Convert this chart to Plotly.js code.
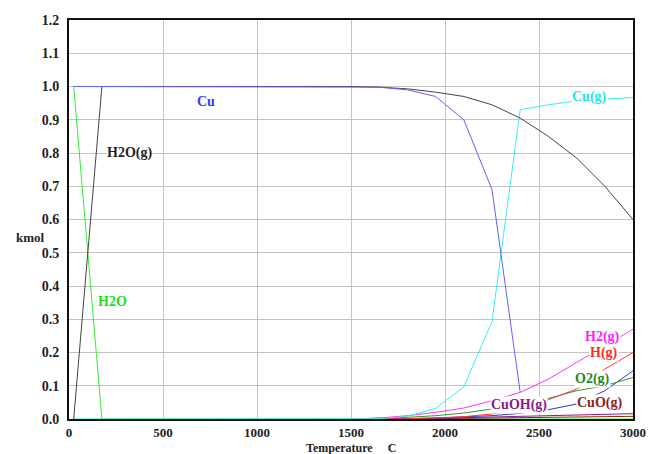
<!DOCTYPE html>
<html>
<head>
<meta charset="utf-8">
<script src="https://cdn.plot.ly/plotly-3.0.1.min.js"></script>
<style>html,body{margin:0;padding:0;background:#fff;}#chart{width:651px;height:454px;}</style>
</head>
<body>
<div id="chart"></div>
<script>
// Temperatures (C)
const T_full = [25, 175, 1500, 1650, 1800, 1950, 2100, 2250, 2400, 2550, 2700, 2850, 3000];
const T_cu = [25, 175, 1500, 1650, 1800, 1950, 2100, 2250, 2400];
const T_h2o = [25, 175, 3000];
const T_hi = [1500, 1650, 1800, 1950, 2100, 2250, 2400, 2550, 2700, 2850, 3000];

// Amounts (kmol)
const cu = [1, 1, 1, 0.998, 0.99, 0.97, 0.9, 0.69, 0.08];
const h2oGas = [0, 1, 1, 0.998, 0.993, 0.983, 0.97, 0.945, 0.905, 0.85, 0.785, 0.7, 0.6];
const h2oLiq = [1, 0, 0];
const cuGas = [0, 0, 0, 0.001, 0.008, 0.032, 0.097, 0.293, 0.93, 0.945, 0.957, 0.962, 0.967];
const h2Gas = [0, 0.003, 0.01, 0.02, 0.033, 0.055, 0.08, 0.12, 0.17, 0.22, 0.27];
const hGas = [0, 0, 0.001, 0.003, 0.007, 0.015, 0.03, 0.058, 0.09, 0.15, 0.2];
const o2Gas = [0, 0.002, 0.005, 0.01, 0.018, 0.03, 0.045, 0.062, 0.085, 0.1, 0.125];
const ohGas = [0, 0, 0.001, 0.003, 0.006, 0.01, 0.017, 0.028, 0.045, 0.085, 0.145];
const cuohGas = [0, 0, 0.001, 0.002, 0.004, 0.006, 0.008, 0.01, 0.012, 0.014, 0.016];
const cuoGas = [0, 0, 0, 0.001, 0.002, 0.003, 0.004, 0.005, 0.006, 0.007, 0.008];

// Labels
const labelText = ["Cu", "H2O(g)", "H2O", "Cu(g)", "H2(g)", "H(g)", "O2(g)", "CuOH(g)", "CuO(g)"];
const labelX = [729, 324, 234, 2771, 2840, 2846, 2782, 2394, 2824];
const labelY = [0.956, 0.8, 0.352, 0.968, 0.247, 0.198, 0.12, 0.042, 0.048];
const labelColor = ["#3a3aff", "#222222", "#22dd22", "#22e6e6", "#ff22ff", "#ff2a2a", "#1f8a1f", "#8a1a8a", "#8b2323"];

const ln = (x, y, c) => ({x: x, y: y, type: 'scatter', mode: 'lines', line: {color: c, width: 1}, hoverinfo: 'skip'});

const data = [
  ln(T_h2o, h2oLiq, '#33ee33'),
  ln(T_hi, cuoGas, '#8b2323'),
  ln(T_hi, cuohGas, '#8a1a8a'),
  ln(T_hi, ohGas, '#3333cc'),
  ln(T_hi, o2Gas, '#2e9a2e'),
  ln(T_hi, hGas, '#ff3333'),
  ln(T_hi, h2Gas, '#ff33ff'),
  ln(T_full, cuGas, '#33f0f0'),
  ln(T_full, h2oGas, '#444444'),
  ln(T_cu, cu, '#6060ff')
];

const serif = 'Liberation Serif, Times New Roman, serif';
const lblFont = {family: serif, size: 14, weight: 'bold'};
const annotations = labelText.map((t, i) => ({
  x: labelX[i], y: labelY[i], xref: 'x', yref: 'y', text: t, showarrow: false,
  xanchor: 'center', yanchor: 'middle',
  font: Object.assign({}, lblFont, {color: labelColor[i]}), bgcolor: '#ffffff', borderpad: 0
}));
annotations.push({x: -0.068, y: 0.546, xref: 'paper', yref: 'y', xanchor: 'center', yanchor: 'middle',
  text: 'kmol', showarrow: false, font: {family: serif, size: 13, weight: 'bold', color: '#222'}});
annotations.push({x: 0.5, y: -0.073, xref: 'paper', yref: 'paper', xanchor: 'center', yanchor: 'middle',
  text: 'Temperature &nbsp;&nbsp;&nbsp; C', showarrow: false, font: {family: serif, size: 12, weight: 'bold', color: '#222'}});

const layout = {
  width: 651, height: 454,
  margin: {l: 69, r: 18, t: 20, b: 35},
  paper_bgcolor: '#ffffff', plot_bgcolor: '#ffffff',
  showlegend: false,
  xaxis: {range: [0, 3000], tickvals: [0, 500, 1000, 1500, 2000, 2500, 3000], showgrid: true, gridcolor: '#c4c4c4', gridwidth: 1,
    zeroline: false, showline: true, mirror: true, linecolor: '#111', linewidth: 2, ticks: '', ticklabelstandoff: 0,
    tickfont: {family: serif, size: 13, weight: 'bold', color: '#222'}},
  yaxis: {range: [0, 1.2], dtick: 0.1, tickformat: '.1f', showgrid: true, gridcolor: '#c4c4c4', gridwidth: 1,
    zeroline: false, showline: true, mirror: true, linecolor: '#111', linewidth: 2, ticks: '', ticklabelstandoff: 5,
    tickfont: {family: serif, size: 14, weight: 'bold', color: '#222'}},
  annotations: annotations
};

Plotly.newPlot('chart', data, layout, {displayModeBar: false, staticPlot: true});
</script>
</body>
</html>
